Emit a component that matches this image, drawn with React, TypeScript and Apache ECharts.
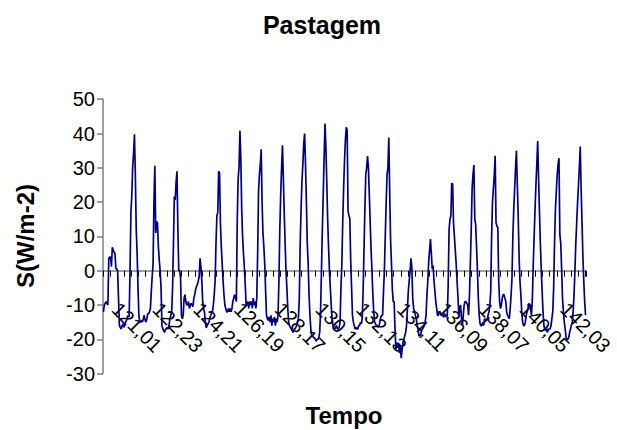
import React, { useEffect, useRef } from "react";
import * as echarts from "echarts";

const FONT = "'Liberation Sans', Arial, Helvetica, sans-serif";

// first sample: day 121, hour 01 ; hourly samples
const startDay = 121;
const startHour = 1;

// tick labels that appear on the category axis (every 46th category)
const tickLabels = [
  "121,01", "122,23", "124,21", "126,19", "128,17", "130,15",
  "132,13", "134,11", "136,09", "138,07", "140,05", "142,03",
];

// S (W/m-2), hourly values per day
const day121 = [-12, -10, -9.5, -9, -9.5, -10, 3.5, 4, 4, 1.2, 6.8, 6, 5.4, 5, 0.7, 0.5, 0, -8, -16, -16.5, -17, -16, -15.5];
const day122 = [-16.5, -16, -15, -14.5, -13.5, -13, -13.5, 0, 17, 22, 30.3, 34.2, 39.8, 28, 12, 5, -5, -13, -15, -15, -14.5, -15, -14, -13];
const day123 = [-14.5, -15, -14, -12.5, -12.5, -12, -11, -6, -1.7, 2, 20, 30.6, 11, 14.3, 14, 7, 3, 0, -5, -16, -17, -17.5, -18, -17];
const day124 = [-17, -16.5, -17, -16, -14, -13, -12, -5, 8, 21.6, 20.6, 26, 29, 12, 0, 0, -2, -13, -14, -13, -8, -7, -9, -10];
const day125 = [-10, -9, -11, -10, -9.5, -10, -10.5, -8, -7, -5.5, -4.6, -4, -3, -1.7, 3.6, 1, -3, -9, -11, -12, -15, -16.7, -16, -15.5];
const day126 = [-15, -14, -13, -12.5, -12, -10, -7, -3, 8, 16, 17, 29, 28.5, 14, 7, 2, -3, -7, -10, -11, -12, -12, -11, -12];
const day127 = [-11, -12, -11, -9, -8, -7, -8, -9, 15, 27, 30, 40.8, 33, 18, 10, 5, 1, -4, -10, -10, -9, -11, -9, -10];
const day128 = [-9, -11, -8, -10, -9, -11, -8, 5, 23, 28, 31, 35.4, 20, 11, 7, 2, -6, -13, -14, -14.5, -13.5, -15, -13, -16];
const day129 = [-14, -15, -13.5, -16, -14, -15, -13, -3, 12, 22, 30, 36.6, 27, 17, 8, 0, -5, -11, -15, -16, -16.5, -17, -17.5, -18];
const day130 = [-17.5, -17, -16.5, -16, -15, -14, -8, 8, 18, 26, 31, 37, 40, 31, 20, 8, 2, -7, -13, -17, -19, -19, -19.5, -19.5];
const day131 = [-20, -20.5, -20, -20, -19.5, -18, -12, 0, 12, 22, 33, 42.9, 36, 26, 15, 7, 0, -5, -10, -14, -16, -17, -17, -16.5];
const day132 = [-16, -17, -17, -16.5, -15, -5, 2, 14, 24, 32, 38, 41.8, 41, 17.5, 16, 15.3, 3, -5, -13, -15, -16, -17, -16.5, -17];
const day133 = [-17, -16, -16, -15, -15.5, -14, -6, 6, 18, 28, 30, 33.4, 30, 22, 14, 6, 0, -7, -12, -15, -15.5, -16, -16, -16.5];
const day134 = [-16, -15, -13.5, -13, -13, -6, 0, 10, 19.5, 28, 30, 38.8, 22.7, 9, 2, -5.5, -9, -9, -17, -23, -21, -22.5, -21, -24];
const day135 = [-22, -25.5, -23, -21, -20, -19, -18, -16, -11, -6, -3, 0, 3.6, 1, -8, -11, -12, -13, -14, -16, -17, -19, -19, -18.5];
const day136 = [-17.5, -17, -16.5, -16, -15, -13, -7, -3, 2.6, 6, 9.2, 5, 0.5, 1.5, -3, -6, -9, -11, -13, -13, -12, -12, -13, -13];
const day137 = [-13, -13, -12.5, -13, -13.5, -13, -4, 12, 15, 16, 25.4, 25.4, 14, 10, 6, 2, -3, -7.5, -13, -11, -10, -14, -16, -13];
const day138 = [-10, -9, -9, -9.5, -10, -13, -7, 2, 12, 24, 28, 30.8, 15, 13.5, 7, 0, -8, -13, -15.5, -16, -16, -15, -16, -14];
const day139 = [-15, -14, -14.5, -13, -12, -10, -6, 10, 20, 24, 28, 33.5, 14, 13, 12.5, -3, -9, -11, -10, -8, -7, -7, -8, -9];
const day140 = [-12, -13, -13.5, -14, -11, -7, -2, 10.4, 18, 24, 30, 35, 25, 16, 4, -3, -7, -12, -15, -16, -16, -15, -13, -12];
const day141 = [-11, -9.5, -10, -11, -13, -8, 2, 10, 18, 25, 31, 37.8, 27, 17, 8, 0.5, -6, -12, -16, -17, -17.5, -17, -18, -17];
const day142 = [-17, -17, -16, -14, -12, -5, 8, 18, 23, 28, 31, 32.8, 10.5, 8, 0.5, -8, -12, -15, -17, -19.4, -20, -20, -19.5, -18];
const day143 = [-17, -16, -15, -12, -7, 0, 8, 14, 20, 25, 30, 36.2, 24, 14, 4, -3, -9, -13];

const values: number[] = [
  ...day121, ...day122, ...day123, ...day124, ...day125, ...day126, ...day127, ...day128,
  ...day129, ...day130, ...day131, ...day132, ...day133, ...day134, ...day135, ...day136,
  ...day137, ...day138, ...day139, ...day140, ...day141, ...day142, ...day143,
];

const categories: string[] = values.map((_, i) => {
  const t = startHour + i;
  const d = startDay + Math.floor(t / 24);
  const h = t % 24;
  return `${d},${String(h).padStart(2, "0")}`;
});

const labelStep = 46;
const yMin = -30;
const yMax = 50;

const GRID_TOP = 99.2;
const GRID_BOTTOM = 56.4;
const CHART_H = 430;

export default function App() {
  const ref = useRef<HTMLDivElement>(null);
  useEffect(() => {
    if (!ref.current) return;
    const chart = echarts.init(ref.current, undefined, { renderer: "svg" });
    const plotH = CHART_H - GRID_TOP - GRID_BOTTOM;
    // distance from the grid's bottom edge up to the value 0
    const zeroOffset = (plotH * (0 - yMin)) / (yMax - yMin);
    chart.setOption({
      animation: false,
      backgroundColor: "#ffffff",
      textStyle: { fontFamily: FONT },
      grid: { left: 103, right: 31, top: GRID_TOP, bottom: GRID_BOTTOM, containLabel: false, outerBoundsMode: "none" },
      xAxis: {
        type: "category",
        data: categories,
        boundaryGap: true,
        position: "bottom",
        offset: -zeroOffset,
        axisLine: { show: true, onZero: false, lineStyle: { color: "#7f7f7f", width: 1.5 } },
        axisTick: { show: true, interval: 7, length: 6, lineStyle: { color: "#000000", width: 1 } },
        axisLabel: {
          interval: labelStep - 1,
          rotate: -45,
          margin: 23,
          padding: [0, 0, 0, 17],
          fontSize: 20,
          color: "#000000",
          fontFamily: FONT,
          formatter: (v: string) => v,
        },
        splitLine: { show: false },
      },
      yAxis: {
        type: "value",
        min: yMin,
        max: yMax,
        interval: 10,
        axisLine: { show: true, lineStyle: { color: "#7f7f7f", width: 1.5 } },
        axisTick: { show: true, length: 6, lineStyle: { color: "#7f7f7f", width: 1.5 } },
        axisLabel: { fontSize: 20, color: "#000000", margin: 8, fontFamily: FONT },
        splitLine: { show: false },
      },
      series: [
        {
          type: "line",
          data: values,
          showSymbol: false,
          symbol: "none",
          lineStyle: { color: "#000080", width: 1.7 },
          itemStyle: { color: "#000080" },
        },
      ],
      graphic: [
        {
          type: "text",
          x: 322,
          y: 25,
          style: { text: "Pastagem", fontSize: 25, fontWeight: "bold", fontFamily: FONT, fill: "#000", align: "center", verticalAlign: "middle" },
        },
        {
          type: "text",
          x: 25,
          y: 236,
          rotation: Math.PI / 2,
          style: { text: "S(W/m-2)", fontSize: 24, fontWeight: "bold", fontFamily: FONT, fill: "#000", align: "center", verticalAlign: "middle" },
        },
        {
          type: "text",
          x: 344,
          y: 415,
          style: { text: "Tempo", fontSize: 24, fontWeight: "bold", fontFamily: FONT, fill: "#000", align: "center", verticalAlign: "middle" },
        },
      ],
    });
    return () => chart.dispose();
  }, []);
  return <div ref={ref} style={{ position: "fixed", left: 0, top: 0, width: 617, height: 430 }} />;
}
